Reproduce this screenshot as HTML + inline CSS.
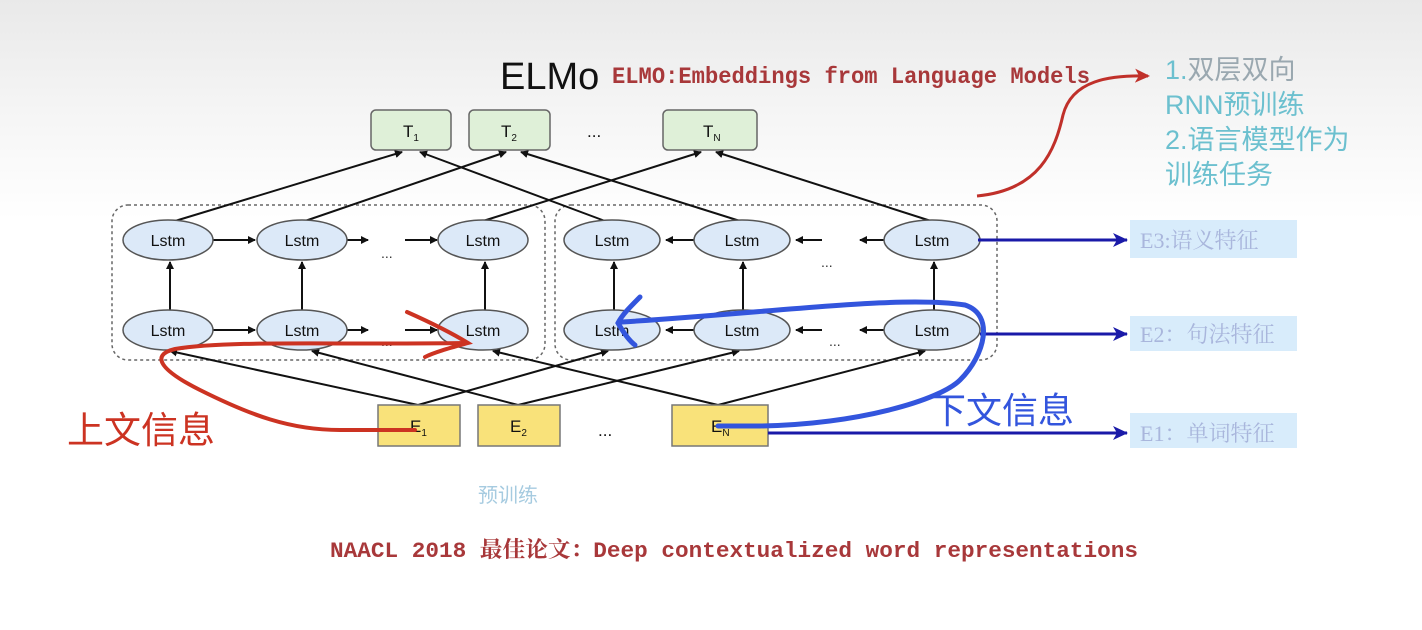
<!DOCTYPE html>
<html><head><meta charset="utf-8"><style>
html,body{margin:0;padding:0;}
body{width:1422px;height:630px;overflow:hidden;background:linear-gradient(#e9e9e9 0px,#f6f6f6 120px,#fff 220px,#fff 630px);}
svg{display:block}
</style></head><body>
<svg width="1422" height="630" viewBox="0 0 1422 630" xmlns="http://www.w3.org/2000/svg">
<defs>
<marker id="ah" markerWidth="8" markerHeight="8" refX="7" refY="4" orient="auto" markerUnits="userSpaceOnUse"><path d="M0,0 L8,4 L0,8 z" fill="#111"/></marker>
<marker id="bh" markerWidth="16" markerHeight="16" refX="14" refY="8" orient="auto" markerUnits="userSpaceOnUse"><path d="M0,1 L15,8 L0,15 L4,8 z" fill="#1a1aa8"/></marker>
<marker id="rh" markerWidth="16" markerHeight="16" refX="13" refY="8" orient="auto" markerUnits="userSpaceOnUse"><path d="M0,1 L15,8 L0,15 L4,8 z" fill="#c0302a"/></marker>
</defs>
<text x="500" y="89" font-family="Liberation Sans, sans-serif" font-size="38" fill="#111">ELMo</text>
<text x="612" y="83" font-family="Liberation Mono, monospace" font-size="23" font-weight="bold" fill="#a8383a" textLength="478" lengthAdjust="spacingAndGlyphs">ELMO:Embeddings from Language Models</text>
<g fill="#dff0d8" stroke="#666" stroke-width="1.5">
<rect x="371" y="110" width="80" height="40" rx="5"/><rect x="469" y="110" width="81" height="40" rx="5"/><rect x="663" y="110" width="94" height="40" rx="5"/>
</g>
<g font-family="Liberation Sans, sans-serif" font-size="17" fill="#111">
<text x="403" y="137">T<tspan font-size="10" dy="4">1</tspan></text>
<text x="501" y="137">T<tspan font-size="10" dy="4">2</tspan></text>
<text x="703" y="137">T<tspan font-size="10" dy="4">N</tspan></text>
<text x="587" y="137">...</text>
</g>
<rect x="112" y="205" width="433" height="155" rx="16" fill="none" stroke="#666" stroke-width="1.5" stroke-dasharray="3,3"/>
<rect x="555" y="205" width="442" height="155" rx="16" fill="none" stroke="#666" stroke-width="1.5" stroke-dasharray="3,3"/>
<g stroke="#111" stroke-width="2" marker-end="url(#ah)">
<line x1="175" y1="221" x2="402" y2="152"/><line x1="605" y1="221" x2="420" y2="152"/>
<line x1="305" y1="221" x2="506" y2="152"/><line x1="740" y1="221" x2="521" y2="152"/>
<line x1="483" y1="221" x2="701" y2="152"/><line x1="931" y1="221" x2="716" y2="152"/>
<line x1="418" y1="405" x2="170" y2="351"/><line x1="418" y1="405" x2="608" y2="351"/>
<line x1="518" y1="405" x2="312" y2="351"/><line x1="518" y1="405" x2="739" y2="351"/>
<line x1="718" y1="405" x2="493" y2="351"/><line x1="718" y1="405" x2="925" y2="351"/>
<line x1="170" y1="311" x2="170" y2="262"/><line x1="302" y1="311" x2="302" y2="262"/><line x1="485" y1="311" x2="485" y2="262"/>
<line x1="614" y1="311" x2="614" y2="262"/><line x1="743" y1="311" x2="743" y2="262"/><line x1="934" y1="311" x2="934" y2="262"/>
<line x1="213" y1="240" x2="255" y2="240"/><line x1="347" y1="240" x2="368" y2="240"/><line x1="405" y1="240" x2="437" y2="240"/>
<line x1="213" y1="330" x2="255" y2="330"/><line x1="347" y1="330" x2="368" y2="330"/><line x1="405" y1="330" x2="437" y2="330"/>
<line x1="695" y1="240" x2="666" y2="240"/><line x1="822" y1="240" x2="796" y2="240"/><line x1="885" y1="240" x2="860" y2="240"/>
<line x1="695" y1="330" x2="666" y2="330"/><line x1="822" y1="330" x2="796" y2="330"/><line x1="885" y1="330" x2="860" y2="330"/>
</g>
<g font-family="Liberation Sans, sans-serif" font-size="14" fill="#333">
<text x="381" y="258">...</text><text x="821" y="267">...</text><text x="381" y="346">...</text><text x="829" y="346">...</text>
</g>
<g fill="#dce9f8" stroke="#555" stroke-width="1.5">
<ellipse cx="168" cy="240" rx="45" ry="20"/><ellipse cx="302" cy="240" rx="45" ry="20"/><ellipse cx="483" cy="240" rx="45" ry="20"/>
<ellipse cx="612" cy="240" rx="48" ry="20"/><ellipse cx="742" cy="240" rx="48" ry="20"/><ellipse cx="932" cy="240" rx="48" ry="20"/>
<ellipse cx="168" cy="330" rx="45" ry="20"/><ellipse cx="302" cy="330" rx="45" ry="20"/><ellipse cx="483" cy="330" rx="45" ry="20"/>
<ellipse cx="612" cy="330" rx="48" ry="20"/><ellipse cx="742" cy="330" rx="48" ry="20"/><ellipse cx="932" cy="330" rx="48" ry="20"/>
</g>
<g font-family="Liberation Sans, sans-serif" font-size="16" fill="#111" text-anchor="middle">
<text x="168" y="246">Lstm</text><text x="302" y="246">Lstm</text><text x="483" y="246">Lstm</text>
<text x="612" y="246">Lstm</text><text x="742" y="246">Lstm</text><text x="932" y="246">Lstm</text>
<text x="168" y="336">Lstm</text><text x="302" y="336">Lstm</text><text x="483" y="336">Lstm</text>
<text x="612" y="336">Lstm</text><text x="742" y="336">Lstm</text><text x="932" y="336">Lstm</text>
</g>
<g fill="#f9e27a" stroke="#777" stroke-width="1.5">
<rect x="378" y="405" width="82" height="41"/><rect x="478" y="405" width="82" height="41"/><rect x="672" y="405" width="96" height="41"/>
</g>
<g font-family="Liberation Sans, sans-serif" font-size="17" fill="#111">
<text x="410" y="432">E<tspan font-size="10" dy="4">1</tspan></text>
<text x="510" y="432">E<tspan font-size="10" dy="4">2</tspan></text>
<text x="711" y="432">E<tspan font-size="10" dy="4">N</tspan></text>
<text x="598" y="436">...</text>
</g>
<g stroke="#1a1aa8" stroke-width="3" marker-end="url(#bh)">
<line x1="978" y1="240" x2="1127" y2="240"/><line x1="980" y1="334" x2="1127" y2="334"/><line x1="768" y1="433" x2="1127" y2="433"/>
</g>
<g fill="#d8ecfb"><rect x="1130" y="220" width="167" height="38"/><rect x="1130" y="316" width="167" height="35"/><rect x="1130" y="413" width="167" height="35"/></g>
<g font-family="Liberation Serif, 'Noto Serif CJK SC', serif" font-size="22" fill="#a9b6dc">
<text x="1140" y="248">E3:语义特征</text><text x="1140" y="342">E2：句法特征</text><text x="1140" y="441">E1：单词特征</text>
</g>
<path d="M977,196 C1040,190 1055,150 1063,115 C1072,80 1110,75 1148,76" fill="none" stroke="#c0302a" stroke-width="3" marker-end="url(#rh)"/>
<g font-family="Liberation Sans, 'Noto Sans CJK SC', sans-serif" font-size="27" fill="#6cc0cf">
<text x="1165" y="79">1.<tspan fill="#9aa8b0">双层双向</tspan></text>
<text x="1165" y="114">RNN预训练</text>
<text x="1165" y="149">2.语言模型作为</text>
<text x="1165" y="184">训练任务</text>
</g>
<path d="M415,430 L340,430 C290,430 250,415 200,390 C160,370 150,355 175,349 C230,340 330,345 465,343" fill="none" stroke="#cc3322" stroke-width="4" stroke-linecap="round"/>
<path d="M407,312 C425,320 450,332 468,343 C450,348 435,352 425,357" fill="none" stroke="#cc3322" stroke-width="4" stroke-linecap="round"/>
<text x="67" y="443" font-family="Liberation Sans, 'Noto Sans CJK SC', sans-serif" font-size="37" fill="#cc3322">上文信息</text>
<path d="M718,426 L760,426 C860,424 940,400 960,380 C985,355 995,315 965,305 C900,295 780,312 622,322" fill="none" stroke="#3355dd" stroke-width="5" stroke-linecap="round"/>
<path d="M640,297 C630,307 622,315 618,323 C622,330 628,340 635,345" fill="none" stroke="#3355dd" stroke-width="5" stroke-linecap="round"/>
<text x="930" y="423" font-family="Liberation Sans, 'Noto Sans CJK SC', sans-serif" font-size="36" fill="#3355dd">下文信息</text>
<text x="478" y="502" font-family="Liberation Sans, 'Noto Sans CJK SC', sans-serif" font-size="20" fill="#a6cbe0">预训练</text>
<text x="330" y="557" font-family="Liberation Mono, 'Noto Serif CJK SC', monospace" font-size="22" font-weight="bold" fill="#a8383a" textLength="808" lengthAdjust="spacingAndGlyphs">NAACL 2018 最佳论文：Deep contextualized word representations</text>
</svg>
</body></html>
